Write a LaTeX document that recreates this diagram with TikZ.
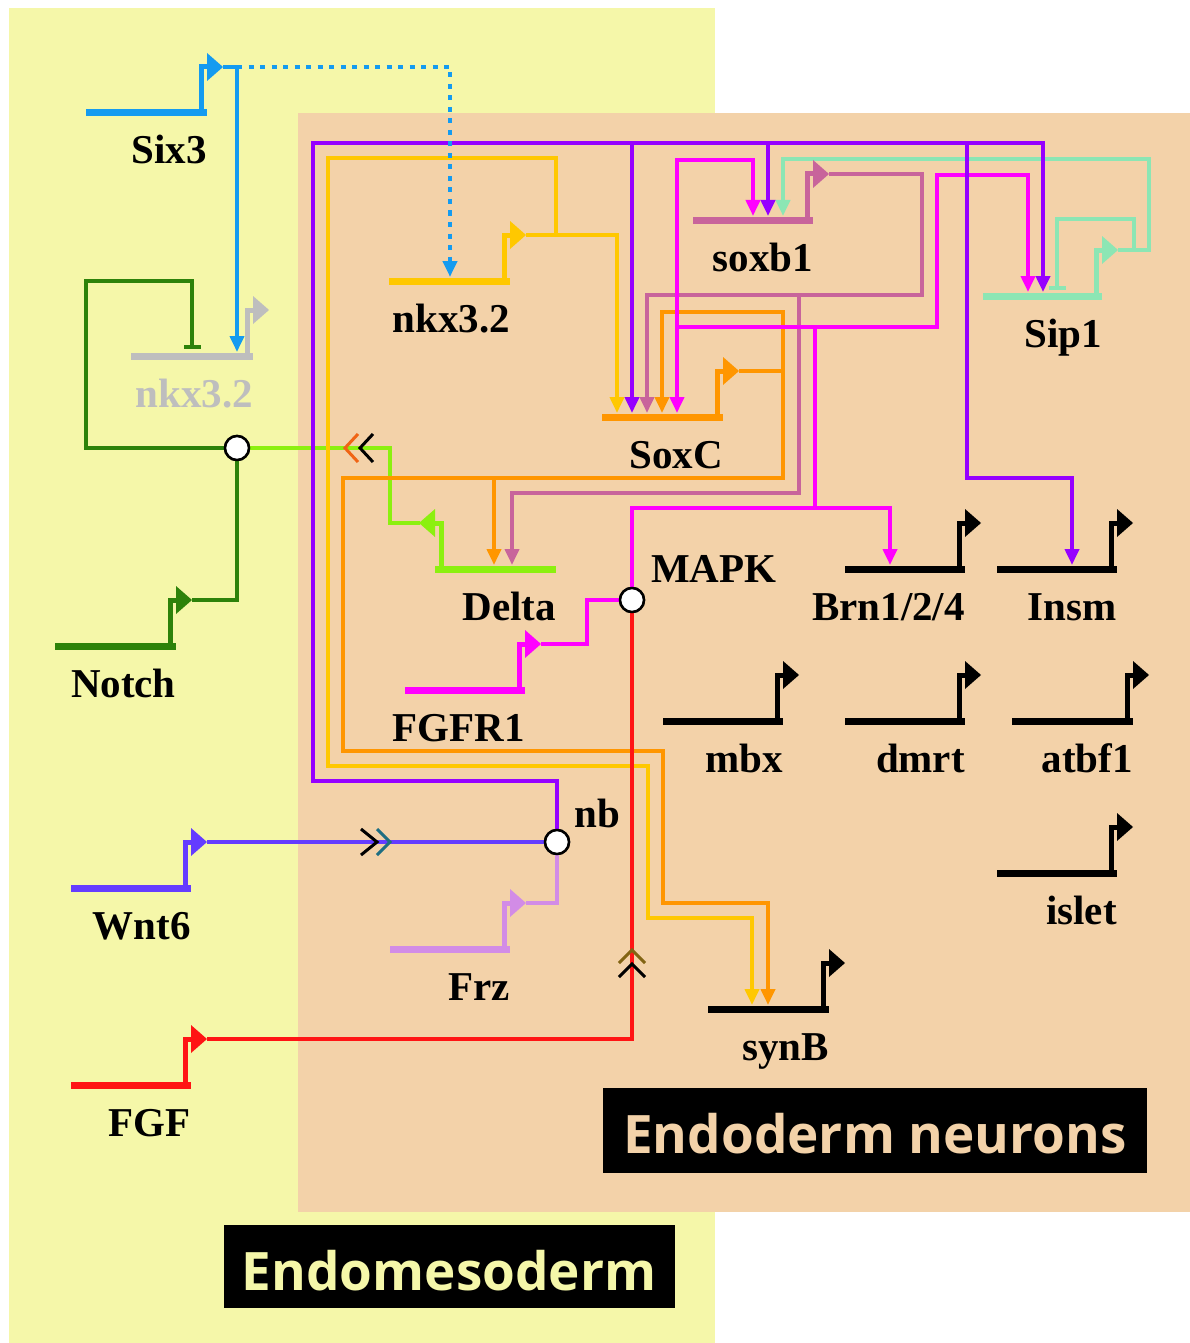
\documentclass[tikz,border=0pt]{standalone}
\usepackage{fontspec}
\setmainfont{Liberation Serif}
\newfontfamily\bannerfont{Open Sans}
\usetikzlibrary{arrows.meta}
\definecolor{bgyellow}{RGB}{245,247,169}
\definecolor{bgpeach}{RGB}{243,210,169}
\definecolor{csix}{RGB}{20,155,240}
\definecolor{cnotch}{RGB}{45,130,10}
\definecolor{cdelta}{RGB}{140,240,15}
\definecolor{cnkx}{RGB}{255,200,0}
\definecolor{csoxc}{RGB}{255,150,0}
\definecolor{csoxb}{RGB}{200,100,155}
\definecolor{csip}{RGB}{140,230,180}
\definecolor{cnb}{RGB}{150,0,255}
\definecolor{cmapk}{RGB}{255,0,255}
\definecolor{cfgf}{RGB}{255,20,20}
\definecolor{cwnt}{RGB}{100,60,255}
\definecolor{cfrz}{RGB}{210,140,230}
\definecolor{cgrey}{RGB}{190,190,190}
\definecolor{cteal}{RGB}{30,110,130}
\definecolor{colive}{RGB}{130,100,20}
\definecolor{corch}{RGB}{240,100,20}
% gene: #1 name, #2 colour, #3 x left, #4 x right, #5 y baseline, #6 label, #7 label colour
\newcommand{\genebox}[7]{%
  \draw[#2, line width=7pt] (#3,#5) -- (#4,#5);
  \draw[#2, line width=5pt] ({#4-6},#5) -- ({#4-6},{#5-46}) -- (#4,{#5-46});
  \fill[#2] (#4,{#5-60}) -- ({#4+16},{#5-46}) -- (#4,{#5-32}) -- cycle;
  \coordinate (#1-out) at ({#4+16},{#5-46});
  \node[glabel, text=#7] (#1-lab) at (#4,{#5+51}) {#6};
}
\begin{document}
\begin{tikzpicture}[x=1pt,y=-1pt,
  net/.style={line width=3.8pt},
  arr/.style={-{Triangle[width=14pt,length=16pt]}},
  arrtwo/.style={{Triangle[width=14pt,length=16pt]}-{Triangle[width=14pt,length=16pt]}},
  rep/.style={-{Bar[width=17pt]}},
  glabel/.style={font=\fontsize{41}{48}\selectfont\bfseries, anchor=base east, inner sep=0pt},
  hub/.style={circle, draw=black, fill=white, line width=2.5pt, minimum size=24pt, inner sep=0pt},
  chev/.style={line width=3pt},
  bannertext/.style={font=\bannerfont\bfseries\fontsize{53}{60}\selectfont, anchor=base, inner sep=0pt}
]
\useasboundingbox (0,0) rectangle (1190,1343);
% regions
\fill[bgyellow] (9,8) rectangle (715,1343);
\fill[bgpeach] (298,113) rectangle (1190,1212);
\fill[black] (603,1088) rectangle (1147,1173);
\node[bannertext, text=bgpeach] (bn1) at (875,1153) {Endoderm neurons};
\fill[black] (224,1225) rectangle (675,1308);
\node[bannertext, text=bgyellow] (bn2) at (449,1290) {Endomesoderm};

% hubs (coordinates used by lines)
\node[hub] (hubN) at (237,448) {};
\node[hub] (hubM) at (632,600) {};
\node[hub] (hubB) at (557,842) {};

% Delta (light green) output to Notch hub
\coordinate (delta-out) at (420,523);
\draw[cdelta, net] (delta-out) -- (390,523) -- (390,448) -- (hubN);
\draw[corch, chev] (358,434) -- (345,448) -- (358,462);
\draw[black, chev] (373,434) -- (360,448) -- (373,462);

% Sip1 (aquamarine)
\coordinate (sip-out) at (1118,250);
\draw[csip, net, arr] (sip-out) -- (1149,250) -- (1149,159) -- (783,159) -- (783,216);
\draw[csip, net, rep] (1134,250) -- (1134,219) -- (1057,219) -- (1057,290);

% soxb1 (mauve)
\coordinate (soxb-out) at (829,174);
\draw[csoxb, net, arr] (soxb-out) -- (922,174) -- (922,295) -- (647,295) -- (647,413);
\draw[csoxb, net, arr] (799,295) -- (799,493) -- (512,493) -- (512,565);

% SoxC (orange)
\coordinate (soxc-out) at (739,371);
\draw[csoxc, net] (soxc-out) -- (783,371);
\draw[csoxc, net, arrtwo] (662,413) -- (662,312) -- (783,312) -- (783,478) -- (343,478) -- (343,751) -- (663,751) -- (663,903) -- (768,903) -- (768,1005);
\draw[csoxc, net, arr] (494,478) -- (494,565);

% nkx3.2 (gold)
\coordinate (nkx-out) at (526,235);
\draw[cnkx, net, arr] (nkx-out) -- (617,235) -- (617,413);
\draw[cnkx, net, arr] (556,235) -- (556,158) -- (328,158) -- (328,766) -- (648,766) -- (648,918) -- (752,918) -- (752,1005);

% MAPK (magenta)
\draw[cmapk, net, arr] (hubM) -- (632,508) -- (890,508) -- (890,565);
\draw[cmapk, net] (815,508) -- (815,327);
\draw[cmapk, net, arrtwo] (753,216) -- (753,160) -- (677,160) -- (677,413);
\draw[cmapk, net, arr] (677,327) -- (937,327) -- (937,175) -- (1028,175) -- (1028,292);

% nb (purple)
\draw[cnb, net, arr] (hubB) -- (557,781) -- (313,781) -- (313,143) -- (1043,143) -- (1043,292);
\draw[cnb, net, arr] (632,143) -- (632,413);
\draw[cnb, net, arr] (768,143) -- (768,216);
\draw[cnb, net, arr] (967,143) -- (967,478) -- (1072,478) -- (1072,565);

% Six3 (blue)
\coordinate (six-out) at (223,67);
\draw[csix, net, arr] (six-out) -- (237,67) -- (237,352);
\draw[csix, line width=4pt, dash pattern=on 5pt off 6.5pt, arr] (237,67) -- (450,67) -- (450,277);

% Notch (dark green)
\coordinate (notch-out) at (192,600);
\draw[cnotch, net] (notch-out) -- (237,600) -- (hubN);
\draw[cnotch, net, rep] (hubN) -- (86,448) -- (86,281) -- (192,281) -- (192,349);

% FGFR1
\coordinate (fgfr-out) at (541,644);
\draw[cmapk, net] (fgfr-out) -- (587,644) -- (587,600) -- (hubM);

% FGF (red)
\coordinate (fgf-out) at (207,1039);
\draw[cfgf, net] (fgf-out) -- (632,1039) -- (hubM);
\draw[colive, chev] (619,963) -- (632,950) -- (645,963);
\draw[black, chev] (619,977) -- (632,964) -- (645,977);

% Wnt6
\coordinate (wnt-out) at (207,842);
\draw[cwnt, net] (wnt-out) -- (hubB);
\draw[black, chev] (361,829) -- (377,842) -- (361,855);
\draw[cteal, chev] (377,829) -- (390,842) -- (377,855);

% Frz
\coordinate (frz-out) at (526,903);
\draw[cfrz, net] (frz-out) -- (557,903) -- (hubB);

% genes
\genebox{six}{csix}{86}{207}{113}{Six3}{black}
\genebox{nkg}{cgrey}{131}{253}{356}{nkx3.2}{cgrey}
\genebox{nkx}{cnkx}{389}{510}{281}{nkx3.2}{black}
\genebox{soxc}{csoxc}{602}{723}{417}{SoxC}{black}
\genebox{soxb}{csoxb}{693}{813}{220}{soxb1}{black}
\genebox{sip}{csip}{983}{1102}{296}{Sip1}{black}
\genebox{notch}{cnotch}{55}{176}{646}{Notch}{black}
\genebox{fgfr}{cmapk}{405}{525}{690}{FGFR1}{black}
\genebox{brn}{black}{845}{965}{569}{Brn1/2/4}{black}
\genebox{insm}{black}{997}{1117}{569}{Insm}{black}
\genebox{mbx}{black}{663}{783}{721}{mbx}{black}
\genebox{dmrt}{black}{845}{965}{721}{dmrt}{black}
\genebox{atbf}{black}{1012}{1133}{721}{atbf1}{black}
\genebox{wnt}{cwnt}{71}{191}{888}{Wnt6}{black}
\genebox{frz}{cfrz}{390}{510}{949}{Frz}{black}
\genebox{islet}{black}{997}{1117}{873}{islet}{black}
\genebox{synb}{black}{708}{829}{1009}{synB}{black}
\genebox{fgf}{cfgf}{71}{191}{1085}{FGF}{black}

% Delta gene (promoter pointing left)
\draw[cdelta, line width=7pt] (435,569) -- (556,569);
\draw[cdelta, line width=5pt] (441,569) -- (441,523) -- (435,523);
\fill[cdelta] (435,509) -- (419,523) -- (435,537) -- cycle;
\node[glabel] (delta-lab) at (556,620) {Delta};

% hub labels
\node[glabel, anchor=base west] (mapk-lab) at (651,582) {MAPK};
\node[glabel, anchor=base west] (nb-lab) at (574,827) {nb};

% hubs on top
\node[hub] at (hubN) {};
\node[hub] at (hubM) {};
\node[hub] at (hubB) {};
\end{tikzpicture}
\end{document}
